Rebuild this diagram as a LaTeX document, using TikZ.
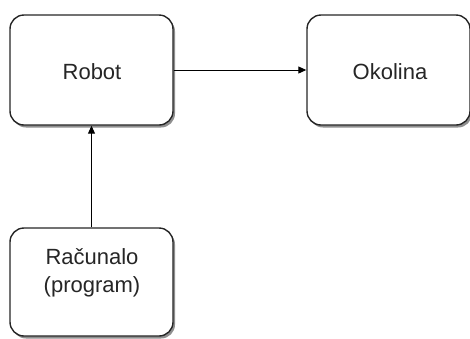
\documentclass[tikz,border=0pt]{standalone}
\usepackage{fontspec}
\setmainfont{Liberation Sans}
\usetikzlibrary{arrows.meta,shadows}
\begin{document}
\begin{tikzpicture}[x=1pt,y=-1pt,
  box/.style={draw=black!85,line width=1.4pt,rounded corners=14pt,fill=white,
    minimum width=163pt,minimum height=110pt,inner sep=0pt,
    drop shadow={shadow xshift=2pt,shadow yshift=-2.5pt,fill=black!55,opacity=0.8}},
  lbl/.style={font=\fontsize{22}{28}\selectfont,text=black!85,align=center},
  conn/.style={line width=1pt,-{Triangle[length=8pt,width=7pt]}}]
\useasboundingbox (0,0) rectangle (470,338);
\node[box] (robot) at (91.5,70) {};
\node[lbl] (robotlbl) at (92,72) {Robot};
\node[box] (okolina) at (388.5,70) {};
\node[lbl] (okolinalbl) at (390,72) {Okolina};
\node[box,minimum height=108pt] (racunalo) at (91.5,282) {};
\node[lbl] (racunalolbl) at (92,273) {Računalo\\(program)};
\draw[conn] (robot.east) -- (okolina.west);
\draw[conn] (racunalo.north) -- (robot.south);
\end{tikzpicture}
\end{document}
